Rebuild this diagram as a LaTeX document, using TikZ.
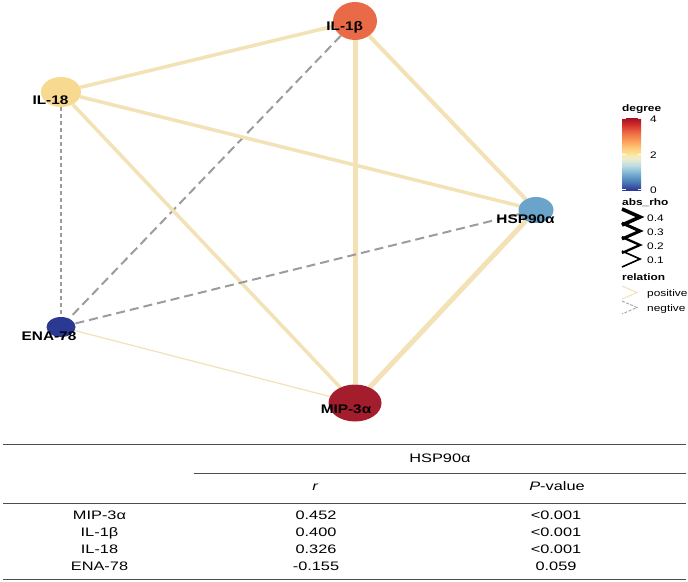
\documentclass[tikz,border=0pt]{standalone}
\usepackage{fontspec}
\usepackage{graphicx}
\setmainfont{Liberation Sans}
\usetikzlibrary{shapes.geometric,backgrounds}
\definecolor{cmip}{HTML}{A31D2D}
\definecolor{cilb}{HTML}{E86A47}
\definecolor{cile}{HTML}{F7D98F}
\definecolor{chsp}{HTML}{6BA4CB}
\definecolor{cena}{HTML}{2A3A93}
\definecolor{cpos}{HTML}{F3E2B6}
\definecolor{cneg}{HTML}{9C9C9C}
\definecolor{tline}{HTML}{4D4D4D}
\definecolor{gA}{RGB}{49,54,149}
\definecolor{gB}{RGB}{69,117,180}
\definecolor{gC}{RGB}{116,173,209}
\definecolor{gD}{RGB}{190,220,225}
\definecolor{gD2}{RGB}{238,238,205}
\definecolor{gE}{RGB}{252,230,155}
\definecolor{gF}{RGB}{253,195,115}
\definecolor{gF2}{RGB}{249,150,85}
\definecolor{gG}{RGB}{238,105,68}
\definecolor{gH}{RGB}{212,50,42}
\definecolor{gI}{RGB}{165,15,38}
\pgfdeclareverticalshading{degbar}{100bp}{color(0bp)=(gA); color(25bp)=(gA); color(30bp)=(gB); color(36bp)=(gC); color(42bp)=(gD); color(47bp)=(gD2); color(50bp)=(gE); color(55bp)=(gF); color(60bp)=(gF2); color(65bp)=(gG); color(70bp)=(gH); color(75bp)=(gI); color(100bp)=(gI)}
\newcommand{\stx}[1]{\scalebox{1.23}[1]{#1}}
\newcommand{\ltx}[1]{\scalebox{1.25}[1]{#1}}
\newcommand{\ttx}[1]{\scalebox{1.33}[1]{#1}}
\begin{document}
\begin{tikzpicture}[x=1pt,y=-1pt,
  vtx/.style={ellipse, inner sep=0pt, draw=none},
  vlab/.style={anchor=base, inner sep=0pt, text=black, font=\fontsize{12.5}{14}\selectfont\bfseries},
  posedge/.style={draw=cpos},
  negedge/.style={draw=cneg, dash pattern=on 9pt off 5pt},
  negthin/.style={draw=cneg, dash pattern=on 4pt off 3pt},
  legttl/.style={anchor=base west, inner sep=0pt, font=\fontsize{9.5}{11}\selectfont\bfseries},
  legtxt/.style={anchor=base west, inner sep=0pt, font=\fontsize{9.5}{11}\selectfont},
  tab/.style={anchor=base, inner sep=0pt, font=\fontsize{12.3}{14}\selectfont},
  tabline/.style={draw=tline, line width=1pt}]
\useasboundingbox (0,0) rectangle (688,581);

% vertices
\node[vtx, fill=cilb, minimum width=44pt, minimum height=38pt] (il1b) at (355,21) {};
\node[vtx, fill=cile, minimum width=40pt, minimum height=30pt] (il18) at (61,92) {};
\node[vtx, fill=chsp, minimum width=35pt, minimum height=26pt] (hsp) at (536,210) {};
\node[vtx, fill=cena, minimum width=29pt, minimum height=20pt] (ena) at (61,327) {};
\node[vtx, fill=cmip, minimum width=53pt, minimum height=37pt] (mip) at (355,403) {};

% edges
\begin{pgfonlayer}{background}
\fill[white] (0,0) rectangle (688,581);
\draw[posedge, line width=3.5pt] (il1b) -- (il18);
\draw[posedge, line width=5pt] (il1b) -- (mip);
\draw[posedge, line width=4pt] (il1b) -- (hsp);
\draw[negedge, line width=2pt] (il1b) -- (ena);
\draw[posedge, line width=3.5pt] (il18) -- (hsp);
\draw[posedge, line width=3.5pt] (il18) -- (mip);
\draw[negthin, line width=1.2pt] (il18) -- (ena);
\draw[posedge, line width=5pt] (hsp) -- (mip);
\draw[negedge, line width=2pt] (hsp) -- (ena);
\draw[posedge, line width=1.2pt] (ena) -- (mip);
\end{pgfonlayer}

% vertex labels
\node[vlab] (til1b) at (344.7,30) {\stx{IL-1β}};
\node[vlab] (til18) at (50.5,104) {\stx{IL-18}};
\node[vlab] (thsp) at (525.5,223) {\stx{HSP90α}};
\node[vlab] (tena) at (49,340.5) {\stx{ENA-78}};
\node[vlab] (tmip) at (346,413) {\stx{MIP-3α}};

% legend: degree
\node[legttl] (ldeg) at (622,111) {\ltx{degree}};
\shade[shading=degbar] (622,118) rectangle (641,190);
\foreach \yy in {118.5,154,189.5}{
  \draw[white, line width=0.6pt] (622,\yy) -- (625.5,\yy);
  \draw[white, line width=0.6pt] (637.5,\yy) -- (641,\yy);
}
\node[legtxt] (ld4) at (650,122.5) {\ltx{4}};
\node[legtxt] (ld2) at (650,158) {\ltx{2}};
\node[legtxt] (ld0) at (650,193.5) {\ltx{0}};

% legend: abs_rho
\node[legttl] (lrho) at (622,205) {\ltx{abs\_rho}};
\draw[line width=3.6pt, line join=miter] (622,209) -- (640,217) -- (622,225);
\draw[line width=3pt, line join=miter] (622,223) -- (640,231) -- (622,239);
\draw[line width=2.3pt, line join=miter] (622,237) -- (640,245) -- (622,253);
\draw[line width=1.6pt, line join=miter] (622,251) -- (640,259) -- (622,267);
\node[legtxt] (lr4) at (647,221) {\ltx{0.4}};
\node[legtxt] (lr3) at (647,235) {\ltx{0.3}};
\node[legtxt] (lr2) at (647,249) {\ltx{0.2}};
\node[legtxt] (lr1) at (647,263) {\ltx{0.1}};

% legend: relation
\node[legttl] (lrel) at (622,280) {\ltx{relation}};
\draw[cpos, line width=1pt] (622,286) -- (637,292.5) -- (622,299);
\draw[cneg, line width=0.8pt, dash pattern=on 3pt off 1.5pt] (622,301) -- (637,307.5) -- (622,314);
\node[legtxt] (lpos) at (647,296) {\ltx{positive}};
\node[legtxt] (lneg) at (647,311) {\ltx{negtive}};

% table
\draw[tabline] (3,444) -- (686,444);
\draw[tabline] (194,473) -- (686,473);
\draw[tabline] (3,503) -- (686,503);
\draw[tabline] (3,579) -- (686,579);
\node[tab] (th) at (440,462) {\ttx{HSP90α}};
\node[tab] (thr) at (315,490.5) {\ttx{\itshape r}};
\node[tab] (thp) at (557,490.5) {\ttx{\textit{P}-value}};
\node[tab] (r1a) at (99.5,519.5) {\ttx{MIP-3α}};
\node[tab] (r1b) at (316,519.5) {\ttx{0.452}};
\node[tab] (r1c) at (556,519.5) {\ttx{<0.001}};
\node[tab] (r2a) at (99.5,536.4) {\ttx{IL-1β}};
\node[tab] (r2b) at (316,536.4) {\ttx{0.400}};
\node[tab] (r2c) at (556,536.4) {\ttx{<0.001}};
\node[tab] (r3a) at (99.5,553.3) {\ttx{IL-18}};
\node[tab] (r3b) at (316,553.3) {\ttx{0.326}};
\node[tab] (r3c) at (556,553.3) {\ttx{<0.001}};
\node[tab] (r4a) at (99.5,570.2) {\ttx{ENA-78}};
\node[tab] (r4b) at (316,570.2) {\ttx{-0.155}};
\node[tab] (r4c) at (556,570.2) {\ttx{0.059}};
\end{tikzpicture}
\end{document}
